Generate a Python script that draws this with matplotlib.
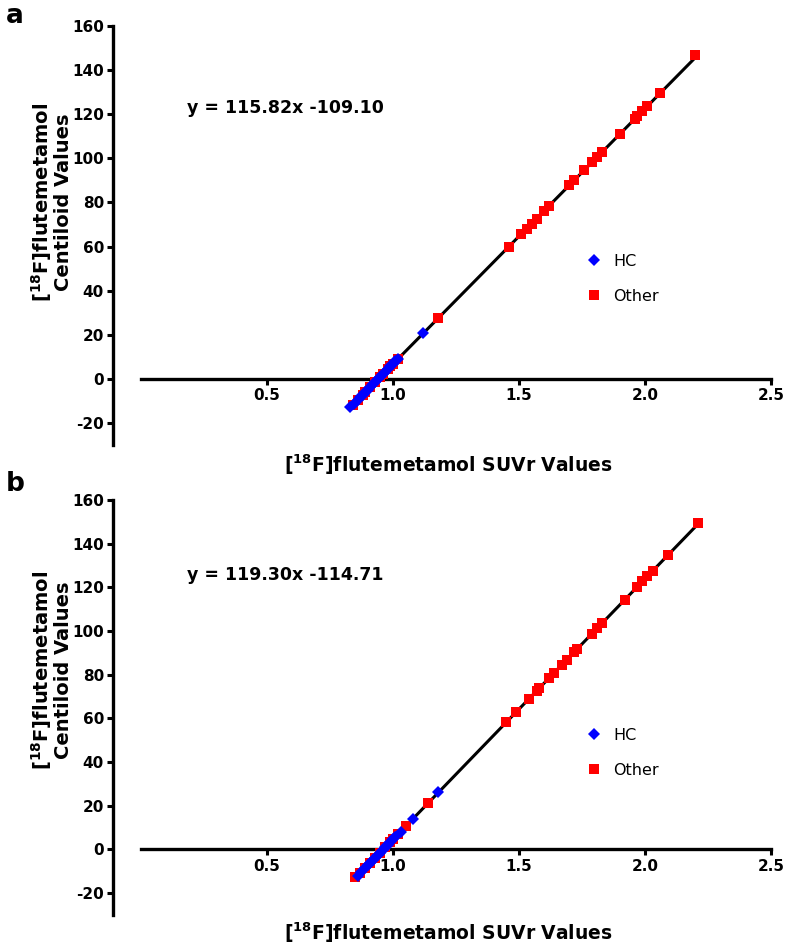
import numpy as np
import matplotlib
matplotlib.use("Agg")
import matplotlib.pyplot as plt

plt.rcParams["axes.unicode_minus"] = False

# panel a: SUVr vs Centiloid
a_hc_x = [0.83, 0.845, 0.86, 0.87, 0.88, 0.89, 0.90, 0.91, 0.92, 0.93, 0.94,
          0.95, 0.96, 0.97, 0.98, 0.99, 1.00, 1.01, 1.02, 1.12]
a_hc_y = [-12.9, -11.2, -9.5, -8.3, -7.2, -6.0, -4.9, -3.7, -2.5, -1.4, -0.2,
          0.9, 2.1, 3.2, 4.4, 5.6, 6.7, 7.9, 9.0, 20.6]
a_ot_x = [0.84, 0.86, 0.88, 0.89, 0.91, 0.93, 0.95, 0.96, 0.98, 0.99, 1.00,
          1.02, 1.18, 1.46, 1.51, 1.53, 1.55, 1.57, 1.60, 1.62, 1.70, 1.72,
          1.76, 1.79, 1.81, 1.83, 1.90, 1.96, 1.97, 1.99, 2.01, 2.06, 2.20]
a_ot_y = [-11.8, -9.5, -7.2, -6.0, -3.7, -1.4, 0.9, 2.1, 4.4, 5.6, 6.7,
          9.0, 27.6, 60.0, 65.8, 68.1, 70.4, 72.7, 76.2, 78.5, 87.8, 90.1,
          94.7, 98.2, 100.5, 102.9, 111.0, 117.9, 119.1, 121.4, 123.7, 129.5, 146.7]
a_fit = (115.82, -109.10)

# panel b
b_hc_x = [0.86, 0.875, 0.89, 0.90, 0.91, 0.92, 0.93, 0.94, 0.95, 0.96, 0.97,
          0.98, 0.99, 1.00, 1.01, 1.03, 1.08, 1.18]
b_hc_y = [-12.1, -10.3, -8.5, -7.3, -6.1, -5.0, -3.7, -2.6, -1.4, -0.2, 1.0,
          2.2, 3.4, 4.6, 5.8, 8.2, 14.1, 26.1]
b_ot_x = [0.85, 0.87, 0.89, 0.91, 0.93, 0.95, 0.97, 0.99, 1.00, 1.02, 1.05,
          1.14, 1.45, 1.49, 1.54, 1.57, 1.58, 1.62, 1.64, 1.67, 1.69, 1.72,
          1.73, 1.79, 1.81, 1.83, 1.92, 1.97, 1.99, 2.01, 2.03, 2.09, 2.21]
b_ot_y = [-12.5, -10.9, -8.5, -6.1, -3.7, -1.4, 1.0, 3.4, 4.6, 7.0, 10.6,
          21.3, 58.3, 63.1, 69.0, 72.6, 73.8, 78.6, 81.0, 84.5, 86.9, 90.5,
          91.7, 98.8, 101.2, 103.6, 114.3, 120.3, 122.7, 125.1, 127.5, 134.6, 149.5]
b_fit = (119.30, -114.71)

xticks = [0.5, 1.0, 1.5, 2.0, 2.5]
yticks = list(range(-20, 161, 20))

W, H = 787, 947
fig = plt.figure(figsize=(W / 100, H / 100), dpi=100)


def panel(rect, hc_x, hc_y, ot_x, ot_y, fit, letter, eq_y, leg_y, xlab_y, let_y):
    ax = fig.add_axes(rect)
    allx = np.array(hc_x + ot_x)
    xs = np.array([allx.min(), allx.max()])
    ax.plot(xs, fit[0] * xs + fit[1], color="black", lw=2.2, zorder=2)
    ax.plot(ot_x, ot_y, "s", color="#ff0000", ms=7, mew=0, zorder=3,
            label="Other", clip_on=False)
    ax.plot(hc_x, hc_y, "D", color="#0000ff", ms=6.5, mew=0, zorder=4,
            label="HC", clip_on=False)
    ax.set_xlim(-0.111, 2.52)
    ax.set_ylim(-30, 160)
    for s in ["top", "right"]:
        ax.spines[s].set_visible(False)
    ax.spines["bottom"].set_position(("data", 0))
    ax.spines["bottom"].set_bounds(0, 2.5)
    ax.spines["left"].set_bounds(-30, 160)
    for s in ["bottom", "left"]:
        ax.spines[s].set_linewidth(2.4)
    ax.set_xticks(xticks)
    ax.set_xticklabels(["0.5", "1.0", "1.5", "2.0", "2.5"])
    ax.set_yticks(yticks)
    ax.tick_params(direction="out", length=4.5, width=2.2, labelsize=11,
                   pad=2)
    for t in ax.get_xticklabels() + ax.get_yticklabels():
        t.set_fontweight("bold")
    h, l = ax.get_legend_handles_labels()
    ax.legend(h[::-1], l[::-1], loc="center left", frameon=False,
              fontsize=11.5, handletextpad=0.7, labelspacing=1.25,
              bbox_to_anchor=(572 / W, 1 - leg_y / H),
              bbox_transform=fig.transFigure, handlelength=1.0)
    fig.text(187 / W, 1 - eq_y / H, "y = %.2fx %.2f" % fit, fontsize=12.5,
             fontweight="bold", va="center", ha="left")
    fig.text(448 / W, 1 - xlab_y / H, r"[$\mathbf{^{18}}$F]flutemetamol SUVr Values",
             fontsize=13.5, fontweight="bold", ha="center", va="center")
    fig.text(6 / W, 1 - let_y / H, letter, fontsize=19,
             fontweight="bold", ha="left", va="center")
    return ax


ax1 = panel([113 / W, 1 - 445 / H, 663 / W, 419 / H],
            a_hc_x, a_hc_y, a_ot_x, a_ot_y, a_fit, "a", 108, 279, 465, 16)
ax2 = panel([113 / W, 1 - 915 / H, 663 / W, 415 / H],
            b_hc_x, b_hc_y, b_ot_x, b_ot_y, b_fit, "b", 575, 753, 933, 484)

# two-line y labels
for yc in [202, 670]:
    fig.text(51 / W, 1 - yc / H,
             "[$\\mathbf{^{18}}$F]flutemetamol\nCentiloid Values",
             rotation=90, fontsize=14, fontweight="bold", ha="center",
             va="center", linespacing=0.95)

fig.savefig("out.png", dpi=100)
